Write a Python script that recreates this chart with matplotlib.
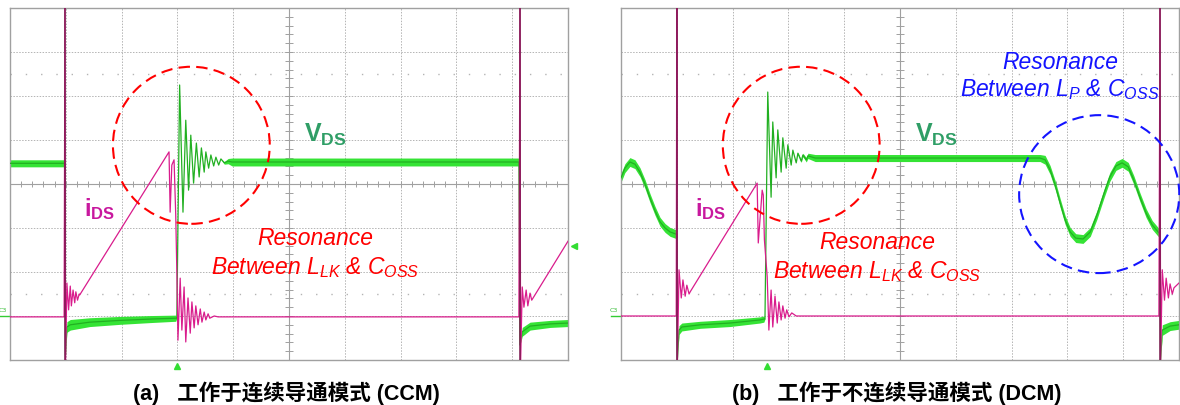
import numpy as np
import matplotlib.pyplot as plt
from matplotlib.patches import Ellipse

plt.rcParams['mathtext.fontset'] = 'custom'
plt.rcParams['mathtext.rm'] = 'Liberation Sans'
plt.rcParams['mathtext.it'] = 'Liberation Sans:italic'
plt.rcParams['mathtext.bf'] = 'Liberation Sans:bold'

# 示波器数据 (单位: 格, x 0~10, y -4~4)
# (a) CCM
vds_ccm_t = [0.00, 0.97, 0.99, 0.995, 1.02, 1.08, 1.43, 1.97, 2.51, 2.97,
             2.99, 3.04, 3.10, 3.15, 3.20, 3.24, 3.29, 3.34, 3.39, 3.43,
             3.48, 3.51, 3.56, 3.60, 3.65, 3.69, 3.74, 3.78, 3.84, 3.91,
             3.98, 9.12, 9.14, 9.18, 9.32, 9.68, 10.0]
vds_ccm_v = [0.47, 0.47, 0.47, -3.89, -3.25, -3.20, -3.14, -3.10, -3.07, -3.05,
             -3.05, 2.25, -0.64, 1.45, -0.14, 1.11, 0.02, 0.93, 0.16, 0.82,
             0.27, 0.73, 0.36, 0.66, 0.41, 0.61, 0.43, 0.57, 0.48, 0.52,
             0.50, 0.50, -3.66, -3.36, -3.23, -3.18, -3.16]
vds_ccm_w = [0.08, 0.08, 0.00, 0.00, 0.12, 0.12, 0.10, 0.09, 0.08, 0.07,
             0.00, 0.00, 0.00, 0.00, 0.00, 0.00, 0.00, 0.00, 0.00, 0.00,
             0.00, 0.00, 0.00, 0.00, 0.00, 0.00, 0.00, 0.00, 0.03, 0.06,
             0.09, 0.09, 0.00, 0.10, 0.09, 0.08, 0.08]
ids_ccm_t = [0.00, 0.97, 0.985, 0.995, 1.02, 1.05, 1.08, 1.10, 1.13, 1.16,
             1.18, 1.21, 1.24, 1.25, 2.85, 2.87, 2.90, 2.94, 2.97, 2.99,
             3.01, 3.05, 3.08, 3.12, 3.15, 3.19, 3.23, 3.26, 3.30, 3.33,
             3.37, 3.41, 3.44, 3.48, 3.51, 3.55, 3.58, 3.66, 3.73, 9.12,
             9.14, 9.15, 9.18, 9.21, 9.25, 9.28, 9.32, 9.35, 10.0]
ids_ccm_i = [-3.02, -3.02, 4.1, -4.1, -2.25, -2.86, -2.32, -2.77, -2.41, -2.70,
             -2.45, -2.64, -2.50, -2.52, 0.73, -0.64, 0.43, 0.55, -0.70, -2.00,
             -3.55, -2.14, -3.32, -2.34, -3.59, -2.59, -3.39, -2.68, -3.27, -2.77,
             -3.20, -2.84, -3.14, -2.91, -3.09, -2.95, -3.05, -3.00, -3.02, -3.02,
             4.1, -4.1, -2.34, -2.80, -2.41, -2.77, -2.48, -2.64, -1.30]
spike_ccm_t = [0.99, 9.14]

# (b) DCM
vds_dcm_t = [0.00, 0.07, 0.16, 0.25, 0.34, 0.43, 0.52, 0.61, 0.70, 0.79,
             0.88, 0.99, 1.00, 1.01, 1.04, 1.09, 1.42, 1.95, 2.49, 2.56,
             2.58, 2.63, 2.69, 2.72, 2.78, 2.81, 2.87, 2.90, 2.96, 2.99,
             3.05, 3.08, 3.14, 3.17, 3.23, 3.26, 3.32, 3.35, 3.48, 7.51,
             7.60, 7.69, 7.78, 7.87, 7.96, 8.05, 8.15, 8.28, 8.41, 8.53,
             8.66, 8.76, 8.87, 8.98, 9.09, 9.19, 9.30, 9.41, 9.52, 9.64,
             9.66, 9.67, 9.70, 9.84, 10.0]
vds_dcm_v = [0.14, 0.36, 0.50, 0.45, 0.27, 0.00, -0.32, -0.61, -0.86, -1.00,
             -1.09, -1.14, -1.14, -4.0, -3.32, -3.25, -3.20, -3.16, -3.09, -3.07,
             -3.07, 2.09, -0.30, 1.41, 0.14, 1.23, 0.27, 1.05, 0.36, 0.89,
             0.43, 0.77, 0.48, 0.70, 0.52, 0.66, 0.55, 0.64, 0.59, 0.59,
             0.55, 0.32, -0.02, -0.43, -0.82, -1.09, -1.23, -1.25, -1.09, -0.70,
             -0.20, 0.16, 0.41, 0.48, 0.39, 0.09, -0.30, -0.66, -0.93, -1.11,
             -1.11, -4.0, -3.32, -3.23, -3.20]
vds_dcm_w = [0.10, 0.10, 0.10, 0.10, 0.10, 0.10, 0.10, 0.10, 0.10, 0.10,
             0.10, 0.10, 0.00, 0.00, 0.10, 0.09, 0.08, 0.08, 0.07, 0.07,
             0.00, 0.00, 0.00, 0.00, 0.00, 0.00, 0.00, 0.00, 0.00, 0.00,
             0.00, 0.00, 0.00, 0.02, 0.03, 0.04, 0.05, 0.06, 0.08, 0.08,
             0.10, 0.10, 0.10, 0.10, 0.10, 0.10, 0.10, 0.10, 0.10, 0.10,
             0.10, 0.10, 0.10, 0.10, 0.10, 0.10, 0.10, 0.10, 0.10, 0.10,
             0.10, 0.00, 0.12, 0.10, 0.10]
ids_dcm_t = [0.00, 0.99, 1.00, 1.01, 1.04, 1.08, 1.11, 1.15, 1.18, 1.22,
             1.24, 2.44, 2.46, 2.53, 2.55, 2.57, 2.62, 2.65, 2.69, 2.72,
             2.76, 2.80, 2.83, 2.87, 2.90, 2.94, 2.97, 3.01, 3.06, 3.14,
             9.64, 9.66, 9.67, 9.70, 9.74, 9.77, 9.81, 9.84, 9.88, 9.91,
             10.0]
ids_dcm_i = [-3.00, -3.00, 4.1, -4.1, -1.95, -2.59, -2.18, -2.55, -2.30, -2.50,
             -2.45, 0.02, -1.34, -0.14, -0.25, -1.27, -2.11, -3.32, -2.41, -3.25,
             -2.55, -3.16, -2.68, -3.09, -2.77, -3.05, -2.86, -3.02, -2.93, -3.00,
             -3.00, 4.1, -4.1, -1.95, -2.64, -2.14, -2.59, -2.27, -2.50, -2.36,
             -2.25]
spike_dcm_t = [1.00, 9.66]

captions = ['(a)   工作于连续导通模式 (CCM)', '(b)   工作于不连续导通模式 (DCM)']

GREEN_FILL = '#35e335'
GREEN_LINE = '#22b022'
PINK = '#d91c8c'
DARK = '#7a1a4f'
GRID = '#b4b4b4'
EDGE = '#a0a0a0'


def draw_screen(ax):
    ax.set_xlim(0, 10)
    ax.set_ylim(-4, 4)
    ax.set_xticks([])
    ax.set_yticks([])
    for s in ax.spines.values():
        s.set_color(EDGE)
        s.set_linewidth(1.0)
    for x in range(1, 10):
        if x != 5:
            ax.axvline(x, color=GRID, lw=0.7, ls=(0, (1.5, 1.5)), zorder=0)
    for y in range(-3, 4):
        if y != 0:
            ax.axhline(y, color=GRID, lw=0.7, ls=(0, (1.5, 1.5)), zorder=0)
    for y in (-2.5, 2.5):
        ax.axhline(y, color=GRID, lw=1.0, ls=(0, (1, 10)), zorder=0)
    ax.axvline(5, color=EDGE, lw=0.8, zorder=0)
    ax.axhline(0, color=EDGE, lw=0.8, zorder=0)
    # 中心线刻度
    ty = np.arange(-4, 4.01, 0.2)
    ax.hlines(ty, 4.93, 5.07, color=EDGE, lw=0.7, zorder=0)
    tx = np.arange(0, 10.01, 0.2)
    ax.vlines(tx, -0.07, 0.07, color=EDGE, lw=0.7, zorder=0)


def draw_traces(ax, vt, vv, vw, it, ii, spikes):
    vt = np.array(vt)
    vv = np.array(vv)
    vw = np.array(vw)
    ax.fill_between(vt, vv - vw, vv + vw, color=GREEN_FILL, lw=0, zorder=2)
    ax.plot(vt, vv, color=GREEN_LINE, lw=0.9, zorder=3)
    ax.plot(it, ii, color=PINK, lw=0.9, zorder=4)
    ax.vlines(spikes, -4, 4, color=DARK, lw=1.1, zorder=5)
    # 通道标记
    ax.text(-0.13, -2.88, 'C3', color='#33bb33', fontsize=4.5, ha='center',
            va='center', clip_on=False)
    ax.plot([-0.18, 0.0], [-3.0, -3.0], color='#33cc33', lw=1, clip_on=False)


fig = plt.figure(figsize=(11.8, 4.05), dpi=100)
ax_a = fig.add_axes([10 / 1180, 45 / 405, 558 / 1180, 352 / 405])
ax_b = fig.add_axes([621 / 1180, 45 / 405, 558 / 1180, 352 / 405])

for ax in (ax_a, ax_b):
    draw_screen(ax)

draw_traces(ax_a, vds_ccm_t, vds_ccm_v, vds_ccm_w, ids_ccm_t, ids_ccm_i, spike_ccm_t)
draw_traces(ax_b, vds_dcm_t, vds_dcm_v, vds_dcm_w, ids_dcm_t, ids_dcm_i, spike_dcm_t)

# 触发标记
ax_a.plot([2.99], [-4.14], marker='^', color='#33dd33', ms=4, clip_on=False)
ax_b.plot([2.62], [-4.14], marker='^', color='#33dd33', ms=4, clip_on=False)
ax_a.plot([10.1], [-1.41], marker='<', color='#33dd33', ms=4, clip_on=False)

vds_color = '#2f9e66'
ids_color = '#c8189e'
red = '#ff0000'
blue = '#1414ff'

for ax, xr in ((ax_a, 3.25), (ax_b, 3.23)):
    ax.add_patch(Ellipse((xr, 0.88), 2.81, 3.57, fill=False, ec=red, lw=1.5,
                         ls=(0, (5.5, 3)), zorder=6))
    ax.text(5.65, 1.11, r'$\mathbf{V}_{\mathbf{DS}}$', color=vds_color, fontsize=18,
            ha='center', va='center', zorder=7)
    ax.text(1.61, -0.57, r'$\mathbf{i}_{\mathbf{DS}}$', color=ids_color, fontsize=17,
            ha='center', va='center', zorder=7)

ax_a.text(5.47, -1.23, 'Resonance', color=red, fontsize=16.5, style='italic',
          family='Liberation Sans', ha='center', va='center', zorder=7)
ax_a.text(5.47, -1.89, r'Between $L_{LK}$ & $C_{OSS}$', color=red, fontsize=16.5,
          style='italic', family='Liberation Sans', ha='center', va='center', zorder=7)
ax_b.text(4.59, -1.34, 'Resonance', color=red, fontsize=16.5, style='italic',
          family='Liberation Sans', ha='center', va='center', zorder=7)
ax_b.text(4.59, -1.98, r'Between $L_{LK}$ & $C_{OSS}$', color=red, fontsize=16.5,
          style='italic', family='Liberation Sans', ha='center', va='center', zorder=7)

ax_b.add_patch(Ellipse((8.57, -0.23), 2.87, 3.59, fill=False, ec=blue, lw=1.5,
                       ls=(0, (5.5, 3)), zorder=6, clip_on=False))
ax_b.text(7.87, 2.77, 'Resonance', color=blue, fontsize=16.5, style='italic',
          family='Liberation Sans', ha='center', va='center', zorder=7)
ax_b.text(7.87, 2.14, r'Between $L_{P}$ & $C_{OSS}$', color=blue, fontsize=16.5,
          style='italic', family='Liberation Sans', ha='center', va='center', zorder=7)

for xc, cap in zip((286.5 / 1180, 897 / 1180), captions):
    fig.text(xc, 1 - 393 / 405, cap, ha='center', va='center', fontsize=15.5,
             fontweight='bold', family=['Liberation Sans', 'Noto Sans CJK SC'])

fig.savefig('out.png', dpi=100)
